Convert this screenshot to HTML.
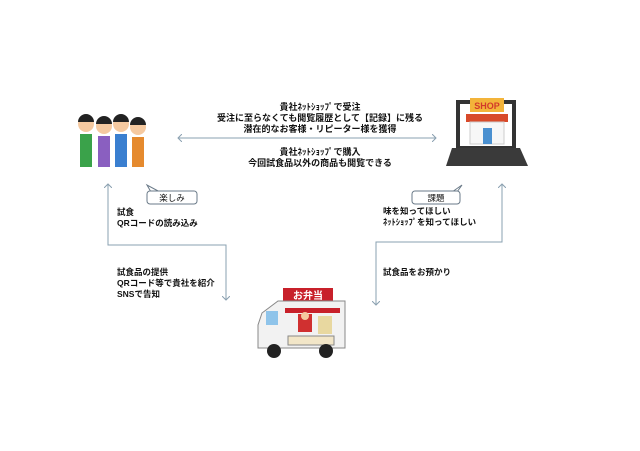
<!DOCTYPE html>
<html><head><meta charset="utf-8"><style>
body{margin:0;background:#fff}
svg{display:block}
text{font-family:"Liberation Sans","Noto Sans CJK JP",sans-serif;font-weight:bold;font-size:9px;fill:#111}
.s{font-size:8.5px}
</style></head><body>
<svg width="640" height="451" viewBox="0 0 640 451">
<defs><marker id="a" markerWidth="8" markerHeight="8" refX="4" refY="4" orient="auto-start-reverse"><path d="M0,0 L4,4 L0,8" fill="none" stroke="#8aa0b0" stroke-width="1"/></marker></defs>
<g stroke="#8aa0b0" stroke-width="1" fill="none">
<line x1="178" y1="138" x2="436" y2="138" marker-start="url(#a)" marker-end="url(#a)"/>
<polyline points="108,184 108,245 226,245 226,300" marker-start="url(#a)" marker-end="url(#a)"/>
<polyline points="502,184 502,242 376,242 376,305" marker-start="url(#a)" marker-end="url(#a)"/>
</g>
<g text-anchor="middle">
<text x="320" y="110">貴社ﾈｯﾄｼｮｯﾌﾟで受注</text>
<text x="320" y="121">受注に至らなくても閲覧履歴として【記録】に残る</text>
<text x="320" y="132">潜在的なお客様・リピーター様を獲得</text>
<text x="320" y="155">貴社ﾈｯﾄｼｮｯﾌﾟで購入</text>
<text x="320" y="166">今回試食品以外の商品も閲覧できる</text>
</g>
<path d="M151,192 L147,185 L160,192" fill="#fff" stroke="#6a7a88"/>
<rect x="147" y="191" width="50" height="13" rx="3" fill="#fff" stroke="#6a7a88"/>
<text x="172" y="201" text-anchor="middle" style="font-weight:normal;font-size:8.5px">楽しみ</text>
<path d="M452,192 L462,185 L457,192" fill="#fff" stroke="#6a7a88"/>
<rect x="412" y="191" width="48" height="13" rx="3" fill="#fff" stroke="#6a7a88"/>
<text x="436" y="201" text-anchor="middle" style="font-weight:normal;font-size:8.5px">課題</text>
<text class="s" x="117" y="215">試食</text>
<text class="s" x="117" y="226">QRコードの読み込み</text>
<text class="s" x="117" y="275">試食品の提供</text>
<text class="s" x="117" y="286">QRコード等で貴社を紹介</text>
<text class="s" x="117" y="297">SNSで告知</text>
<text class="s" x="383" y="214">味を知ってほしい</text>
<text class="s" x="383" y="225">ﾈｯﾄｼｮｯﾌﾟを知ってほしい</text>
<text class="s" x="383" y="275">試食品をお預かり</text>
<!-- people -->
<g>
<rect x="80" y="134" width="12" height="33" fill="#3aa24a"/><circle cx="86" cy="124" r="8" fill="#f5c9a0"/><path d="M78,122 a8,8 0 0 1 16,0z" fill="#222"/>
<rect x="98" y="136" width="12" height="31" fill="#8a5fc0"/><circle cx="104" cy="126" r="8" fill="#f5c9a0"/><path d="M96,124 a8,8 0 0 1 16,0z" fill="#222"/>
<rect x="115" y="134" width="12" height="33" fill="#3a7fd0"/><circle cx="121" cy="124" r="8" fill="#f5c9a0"/><path d="M113,122 a8,8 0 0 1 16,0z" fill="#222"/>
<rect x="132" y="137" width="12" height="30" fill="#e58a2e"/><circle cx="138" cy="127" r="8" fill="#f5c9a0"/><path d="M130,125 a8,8 0 0 1 16,0z" fill="#222"/>
</g>
<!-- laptop shop -->
<rect x="456" y="100" width="60" height="48" fill="#333"/>
<rect x="460" y="104" width="52" height="42" fill="#fff"/>
<rect x="470" y="98" width="34" height="14" fill="#f3b43a"/>
<text x="487" y="109" text-anchor="middle" style="fill:#d23a2a;font-size:9px">SHOP</text>
<rect x="466" y="114" width="42" height="8" fill="#d84a2a"/>
<rect x="470" y="122" width="34" height="22" fill="#f7f7f7" stroke="#ccc"/>
<rect x="483" y="128" width="9" height="16" fill="#4a90d0"/>
<path d="M452,148 L520,148 L528,166 L446,166Z" fill="#3a3a3a"/>
<!-- truck -->
<rect x="283" y="288" width="50" height="14" fill="#c8202a"/>
<text x="308" y="299" text-anchor="middle" style="fill:#fff;font-size:10px">お弁当</text>
<path d="M262,313 L278,301 L345,301 L345,348 L258,348 L258,325Z" fill="#f2f2f2" stroke="#888"/>
<rect x="285" y="308" width="55" height="5" fill="#c8202a"/>
<rect x="266" y="311" width="12" height="14" fill="#8fc4ea"/>
<rect x="298" y="314" width="14" height="18" fill="#d03030"/><circle cx="305" cy="316" r="4" fill="#f5c9a0"/>
<rect x="318" y="316" width="14" height="18" fill="#e8d8a0"/>
<rect x="288" y="336" width="46" height="9" fill="#f2e6c8" stroke="#888"/>
<circle cx="274" cy="351" r="7" fill="#222"/><circle cx="326" cy="351" r="7" fill="#222"/>
</svg>
</body></html>
